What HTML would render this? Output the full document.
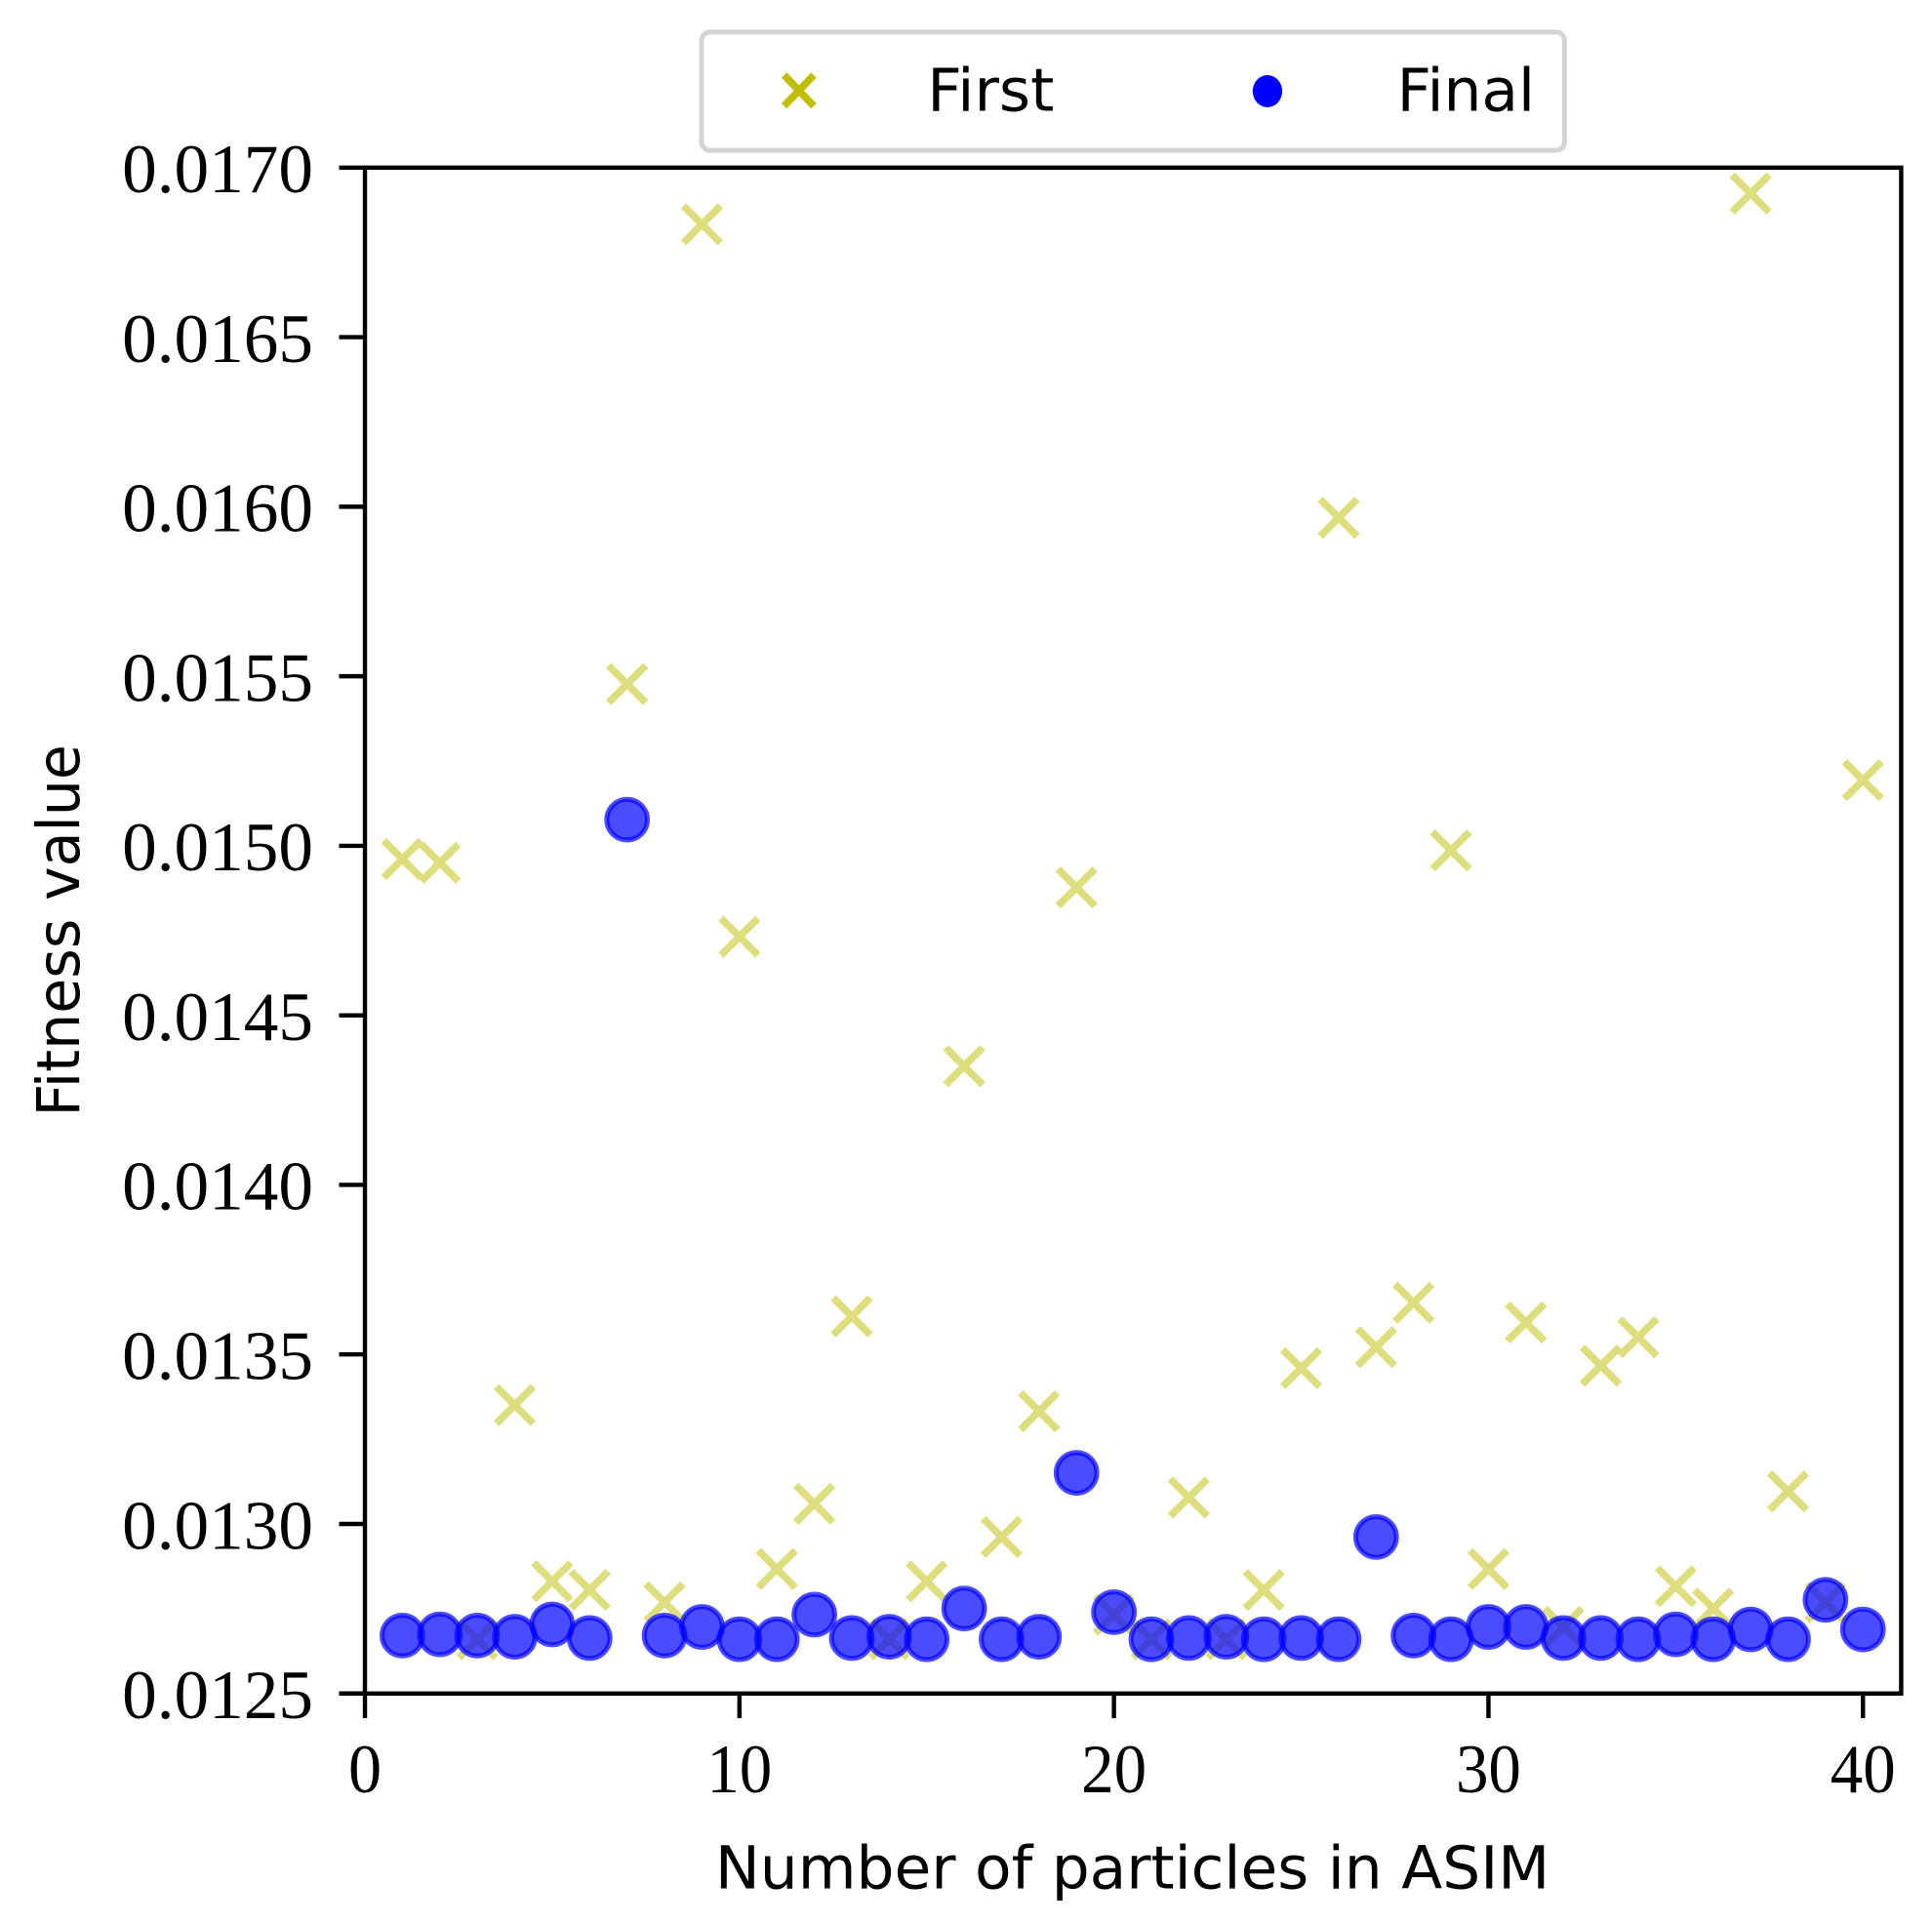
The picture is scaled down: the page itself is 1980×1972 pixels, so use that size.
<!DOCTYPE html>
<html><head><meta charset="utf-8">
<style>
html,body{margin:0;padding:0;background:#fff;}
svg{display:block;}
text{fill:#000;}
.t{font-family:"Liberation Serif",serif;font-size:56px;}
.s{font-family:"DejaVu Sans","Liberation Sans",sans-serif;font-size:48px;}
</style></head>
<body>
<svg id="c" width="1980" height="1972" viewBox="0 0 1567 1561" preserveAspectRatio="none" xmlns="http://www.w3.org/2000/svg">
<rect x="0" y="0" width="1567" height="1561" fill="#fff"/>
<g id="data"></g>
<rect x="296" y="136" width="1246" height="1238" fill="none" stroke="#000" stroke-width="3.5"/>
<g id="ticks" stroke="#000" stroke-width="3.5"></g>
<g id="labels"></g>
<text class="s" x="580" y="1532" textLength="677" lengthAdjust="spacingAndGlyphs">Number of particles in ASIM</text>
<text class="s" x="0" y="0" textLength="302" lengthAdjust="spacingAndGlyphs" transform="translate(64 906) rotate(-90)">Fitness value</text>
<rect x="569" y="26" width="700" height="96" rx="7" fill="#fff" stroke="#d4d4d4" stroke-width="4"/>
<g stroke="#bfbf00" stroke-width="6"><line x1="636" y1="61" x2="660" y2="86"/><line x1="660" y1="61" x2="636" y2="86"/></g>
<text class="s" x="752" y="90" textLength="103" lengthAdjust="spacingAndGlyphs">First</text>
<ellipse cx="1028" cy="74" rx="12" ry="13" fill="#0000ff"/>
<text class="s" x="1133" y="90" textLength="112" lengthAdjust="spacingAndGlyphs">Final</text>
</svg>
<script>
var NS="http://www.w3.org/2000/svg";
function el(p,n,a){var e=document.createElementNS(NS,n);for(var k in a)e.setAttribute(k,a[k]);p.appendChild(e);return e;}
var X=function(i){return 296+30.375*i;};
var ticks=document.getElementById('ticks'),labels=document.getElementById('labels'),data=document.getElementById('data');
for(var k=0;k<=4;k++){var x=X(k*10);el(ticks,'line',{x1:x,y1:1374,x2:x,y2:1394});
 var w=k==0?27:53;
 var t=el(labels,'text',{class:'t',x:x-w/2,y:1454,textLength:w,lengthAdjust:'spacingAndGlyphs'});t.textContent=String(k*10);}
var yl=["0.0170","0.0165","0.0160","0.0155","0.0150","0.0145","0.0140","0.0135","0.0130","0.0125"];
for(var j=0;j<10;j++){var y=136+j*(1238/9);el(ticks,'line',{x1:275,y1:y,x2:296,y2:y});
 var t=el(labels,'text',{class:'t',x:99,y:y+20,textLength:155,lengthAdjust:'spacingAndGlyphs'});t.textContent=yl[j];}
var first={1:697,2:700,3:1330,4:1140,5:1283,6:1290,7:555,8:1300,9:182,10:760,11:1273,12:1220,13:1068,14:1330,15:1283,16:865,17:1247,18:1145,19:720,20:1310,21:1330,22:1215,23:1330,24:1290,25:1110,26:420,27:1093,28:1057,29:690,30:1273,31:1073,32:1320,33:1108,34:1085,35:1287,36:1305,37:157,38:1210,39:1300,40:633};
var fin=[1327,1326,1327,1328,1318,1329,665,1327,1320,1330,1330,1310,1329,1328,1330,1305,1330,1328,1195,1308,1330,1329,1328,1330,1329,1330,1247,1327,1330,1320,1320,1329,1329,1330,1326,1330,1322,1330,1298,1322];
var g1=el(data,'g',{stroke:'#bfbf00','stroke-width':6,opacity:0.5});
for(var i=1;i<=40;i++){var x=X(i),y=first[i],d=15;
 el(g1,'line',{x1:x-d,y1:y-d,x2:x+d,y2:y+d});el(g1,'line',{x1:x-d,y1:y+d,x2:x+d,y2:y-d});}
for(var i=1;i<=40;i++){el(data,'circle',{cx:X(i),cy:fin[i-1],r:16.5,fill:'#0000ff','fill-opacity':0.7,stroke:'#0000ff','stroke-opacity':0.7,'stroke-width':4});}
</script>
</body></html>
